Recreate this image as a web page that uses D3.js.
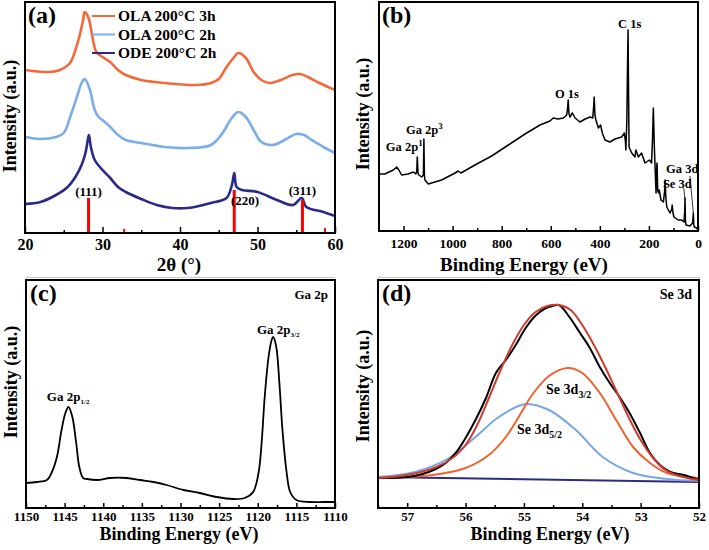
<!DOCTYPE html>
<html><head><meta charset="utf-8">
<script src="https://cdn.jsdelivr.net/npm/d3@7"></script>
<style>
body{margin:0;background:#fff}
svg{display:block}
text{font-family:"Liberation Serif","Times New Roman",serif;font-weight:bold;fill:#000}
</style>
</head><body>
<svg id="chart" width="709" height="550"></svg>
<script>
// ---------------- DATA ----------------
// (a) XRD patterns: [2theta (deg), intensity (a.u.)]
const xrdLegend = ["OLA 200\u00B0C 3h", "OLA 200\u00B0C 2h", "ODE 200\u00B0C 2h"];
const xrdOla3h = [[20,163],[23,161],[24.5,163],[25.8,170],[26.5,183],[27,196],[27.5,213],[27.7,221],[28.2,215],[28.7,196],[29.2,181],[30,176],[31,171],[32,163],[33,158],[35,153],[38,150],[42,148],[44,150],[45,154],[46,166],[47,176],[47.5,180],[48.5,175],[49.5,161],[50.5,153],[51.5,150],[53,153],[54.5,158],[55.5,159],[56.5,156],[58,150],[60,143]];
const xrdOla2h = [[20,96],[22,94],[24,96],[25,100],[26,120],[26.7,136],[27.3,150],[27.7,154],[28.3,145],[29,123],[29.5,116],[30.3,111],[31,106],[32,98],[33,93],[35,90],[38,86],[41,85],[44,88],[45.5,100],[46.5,113],[47.5,121],[48.5,116],[49.5,103],[50.5,91],[52,88],[53.5,93],[55,99],[56,98],[57,93],[58.5,86],[60,80]];
const xrdOde2h = [[20,29],[22,31],[24,38],[25.5,46],[26.5,56],[27.3,68],[27.8,80],[28.1,93],[28.25,98],[28.5,86],[29,73],[30,63],[31,55],[32,46],[33,41],[35,34],[37,28],[39,25],[41,25],[43,28],[44,30],[46,35],[46.7,48],[47.0,60],[47.3,46],[48,43],[50,41],[52.5,33],[54.6,28],[55.7,35],[56.3,26],[58.5,21],[60,17]];
const xrdRefPos = [28.2, 32.8, 47.0, 55.8, 58.7];
const xrdRefHeight = [35, 4, 43, 33, 5];
const xrdPeakLabels = ["(111)", "(220)", "(311)"];
const xrdPeakLabelPos = [[28.2, 37], [48.4, 28], [55.8, 38]];
const xrdTicks = [20, 30, 40, 50, 60];

// (b) XPS survey: [binding energy (eV), intensity]
const surveyData = [[1300,57],[1276,57],[1242,61],[1228,64],[1219,61],[1208,56],[1181,57],[1160,59],[1150,57],[1146,60],[1144,74],[1141,58],[1138,56],[1126,54],[1119,56],[1117,92],[1115,56],[1113,51],[1099,47],[1045,51],[990,58],[977,60],[966,58],[909,66],[841,75],[773,86],[705,97],[644,106],[603,110],[590,113],[570,112],[549,113],[535,116],[531,124],[529,131],[526,118],[522,114],[512,118],[501,113],[481,109],[460,112],[440,114],[429,113],[425,125],[423,134],[420,116],[416,111],[406,103],[397,106],[390,98],[379,91],[359,89],[338,92],[311,94],[300,98],[296,90],[294,81],[290,110],[287,170],[285,201],[283,141],[281,84],[270,78],[257,74],[253,81],[243,74],[230,78],[216,68],[198,71],[189,68],[185,95],[182,123],[178,85],[175,64],[171,38],[168,65],[167,68],[164,40],[160,38],[158,41],[151,31],[141,29],[136,40],[134,51],[131,33],[127,24],[114,18],[107,22],[105,26],[102,18],[98,14],[81,11],[67,11],[57,9],[54,20],[53,33],[51,10],[49,6],[33,5],[22,8],[19,18],[17,6],[15,4],[5,3],[0,1]];
const surveyTicks = [1200, 1000, 800, 600, 400, 200, 0];
const surveyLabels = [
  {parts:["C 1s"], e:326, v:203},
  {parts:["O 1s"], e:583, v:133},
  {parts:["Ga 2p","3"], e:1190, v:97},
  {parts:["Ga 2p","1"], e:1272, v:80},
  {parts:["Ga 3d"], e:130, v:58},
  {parts:["Se 3d"], e:143, v:43}
];
const surveyLeaders = [[[33,55],[19,18]], [[58,43],[53,31]]];

// (c) Ga 2p high-resolution
const ga2pData = [[1150,25],[1148.6,26],[1147.3,28],[1146.7,35],[1146.0,51],[1145.4,78],[1144.9,95],[1144.5,101],[1144.0,91],[1143.5,65],[1143.1,41],[1142.6,30],[1142.1,29],[1140.8,28],[1139.1,30],[1137.0,30],[1135.2,28],[1133.5,26],[1131.8,23],[1129.6,18],[1127.5,15],[1125.3,11],[1123.2,9],[1121.7,10],[1120.6,16],[1119.9,35],[1119.5,65],[1119.1,111],[1118.6,151],[1118.2,168],[1118.0,171],[1117.6,161],[1117.2,125],[1116.8,78],[1116.3,38],[1115.8,16],[1115.0,8],[1113.2,6],[1111.5,6],[1110,6]];
const ga2pTicks = [1150, 1145, 1140, 1135, 1130, 1125, 1120, 1115, 1110];

// (d) Se 3d high-resolution with fit
const se3dRaw = [[57.5,30],[57.26,30],[57.0,31],[56.74,34],[56.51,39],[56.34,45],[56.17,55],[56.0,70],[55.83,88],[55.65,110],[55.48,135],[55.31,148],[55.14,163],[54.97,180],[54.79,193],[54.62,200],[54.51,202],[54.40,203],[54.22,191],[54.05,176],[53.88,161],[53.70,141],[53.53,125],[53.36,111],[53.19,95],[53.01,75],[52.84,55],[52.67,43],[52.49,36],[52.26,33],[52.0,28]];
const se3dEnvelope = [[57.5,30],[57.0,33],[56.5,41],[56.2,51],[56.0,63],[55.8,83],[55.6,110],[55.4,138],[55.2,163],[55.0,183],[54.8,196],[54.6,202],[54.4,203],[54.2,198],[54.0,183],[53.8,163],[53.6,140],[53.4,115],[53.2,90],[53.0,68],[52.8,51],[52.6,39],[52.4,33],[52.2,30],[52.0,28]];
const se3d32 = [[57.5,30],[56.57,33],[56.0,40],[55.6,53],[55.31,71],[55.09,91],[54.86,113],[54.57,132],[54.25,140],[54.0,135],[53.7,115],[53.42,88],[53.13,61],[52.84,45],[52.55,35],[52.0,30]];
const se3d52 = [[57.5,31],[56.87,36],[56.28,50],[55.83,71],[55.43,91],[54.97,104],[54.57,98],[54.11,78],[53.65,51],[53.13,35],[52.55,29],[52.0,27]];
const se3dBackground = [[57.5,31],[52.0,26]];
const se3dTicks = [57, 56, 55, 54, 53, 52];

// ---------------- DRAWING ----------------
const svg = d3.select("#chart");
const C = {orange:"#f4683a", lblue:"#7badea", navy:"#2c2a88", red:"#ff0000",
           fitRed:"#cf3a30", fitOrange:"#f2622e", fitBlue:"#78a6e6", base:"#2e2a80"};

function panel(id, l, r, t, b, xDom, yMax) {
  const x = d3.scaleLinear(xDom, [l, r]);
  const y = d3.scaleLinear([0, yMax], [b, t]);
  const g = svg.append("g");
  svg.append("clipPath").attr("id", "clip" + id)
    .append("rect").attr("x", l).attr("y", t).attr("width", r - l).attr("height", b - t);
  const plot = g.append("g").attr("clip-path", `url(#clip${id})`);
  return {x, y, g, plot, l, r, t, b};
}

function axis(p, major, minor, majLen, minLen, fs, pad) {
  p.g.append("g").attr("transform", `translate(0,${p.b})`)
    .call(d3.axisBottom(p.x).tickValues(minor).tickSize(-minLen).tickFormat(""))
    .call(a => a.select(".domain").remove())
    .call(a => a.selectAll("line").attr("stroke", "#000").attr("stroke-width", 1.5));
  p.g.append("g").attr("transform", `translate(0,${p.b})`)
    .call(d3.axisBottom(p.x).tickValues(major).tickSize(-majLen).tickPadding(pad).tickFormat(d3.format("d")))
    .call(a => a.select(".domain").remove())
    .call(a => a.selectAll("line").attr("stroke", "#000").attr("stroke-width", 1.5))
    .call(a => a.selectAll("text").attr("font-size", fs).attr("fill", "#000")
      .style("font-family", '"Liberation Serif",serif').style("font-weight", "bold"));
}

function frame(p) {
  p.g.append("rect").attr("x", p.l).attr("y", p.t).attr("width", p.r - p.l).attr("height", p.b - p.t)
    .attr("fill", "none").attr("stroke", "#000").attr("stroke-width", 2);
}

function curve(p, data, color, w, cv) {
  p.plot.append("path").datum(data)
    .attr("d", d3.line().x(d => p.x(d[0])).y(d => p.y(d[1])).curve(cv || d3.curveLinear))
    .attr("fill", "none").attr("stroke", color).attr("stroke-width", w).attr("stroke-linejoin", "round");
}

function label(g, x, y, parts, fs, anchor, subSize, mode) {
  const t = g.append("text").attr("x", x).attr("y", y).attr("font-size", fs)
    .attr("text-anchor", anchor || "start");
  parts.forEach((s, i) => {
    if (i === 0) t.append("tspan").text(s);
    else if (mode === "sup") t.append("tspan").attr("font-size", subSize).attr("dy", -fs * 0.4).text(s);
    else t.append("tspan").attr("font-size", subSize).attr("dy", fs * 0.25).text(s);
  });
  return t;
}

function ytitle(g, x, y, fs) {
  g.append("text").attr("transform", `translate(${x},${y}) rotate(-90)`)
    .attr("text-anchor", "middle").attr("font-size", fs).text("Intensity (a.u.)");
}

// ---- (a) ----
const A = panel("a", 25, 335, 2, 233, [20, 60], 231);
curve(A, xrdOla3h, C.orange, 2.6, d3.curveCatmullRom);
curve(A, xrdOla2h, C.lblue, 2.6, d3.curveCatmullRom);
curve(A, xrdOde2h, C.navy, 2.6, d3.curveCatmullRom);
A.plot.selectAll("line.ref").data(xrdRefPos).join("line")
  .attr("x1", d => A.x(d)).attr("x2", d => A.x(d))
  .attr("y1", A.y(0)).attr("y2", (d, i) => A.y(xrdRefHeight[i]))
  .attr("stroke", C.red).attr("stroke-width", (d, i) => xrdRefHeight[i] > 10 ? 3 : 2);
xrdPeakLabels.forEach((s, i) => {
  A.g.append("text").attr("x", A.x(xrdPeakLabelPos[i][0])).attr("y", A.y(xrdPeakLabelPos[i][1]))
    .attr("text-anchor", "middle").attr("font-size", 13).text(s);
});
axis(A, xrdTicks, [25, 35, 45, 55], 6, 3, 16, 6);
frame(A);
[C.orange, C.lblue, C.navy].forEach((c, i) => {
  const yy = 16 + i * 18.5;
  A.g.append("line").attr("x1", 92).attr("x2", 115).attr("y1", yy).attr("y2", yy)
    .attr("stroke", c).attr("stroke-width", 2);
  A.g.append("text").attr("x", 118).attr("y", yy).attr("dy", "0.35em").attr("font-size", 15.5).text(xrdLegend[i]);
});
A.g.append("text").attr("x", 28).attr("y", 23).attr("font-size", 24).text("(a)");
ytitle(A.g, 16, 116, 18);
A.g.append("text").attr("x", 179).attr("y", 271).attr("text-anchor", "middle").attr("font-size", 19).text("2\u03B8 (\u00B0)");

// ---- (b) ----
const B = panel("b", 379, 698, 2, 231, [1300, 0], 229);
curve(B, surveyData, "#000", 1.5);
axis(B, surveyTicks, [1100, 900, 700, 500, 300, 100], 5, 3, 13.5, 7);
frame(B);
surveyLeaders.forEach(s => {
  B.g.append("line").attr("x1", B.x(s[0][0])).attr("y1", B.y(s[0][1]))
    .attr("x2", B.x(s[1][0])).attr("y2", B.y(s[1][1])).attr("stroke", "#000").attr("stroke-width", 0.8);
});
surveyLabels.forEach(d => {
  label(B.g, B.x(d.e), B.y(d.v), d.parts, 12.5, "start", 9, "sup");
});
B.g.append("text").attr("x", 382).attr("y", 23).attr("font-size", 24).text("(b)");
ytitle(B.g, 369, 114, 18);
B.g.append("text").attr("x", 524).attr("y", 271).attr("text-anchor", "middle").attr("font-size", 19).text("Binding Energy (eV)");

// faint box edges between rows
svg.append("line").attr("x1", 26).attr("x2", 335).attr("y1", 277.5).attr("y2", 277.5).attr("stroke", "#c8c8c8");
svg.append("line").attr("x1", 378).attr("x2", 700).attr("y1", 277.5).attr("y2", 277.5).attr("stroke", "#c8c8c8");

// ---- (c) ----
const Cp = panel("c", 26, 335, 280, 508, [1150, 1110], 228);
curve(Cp, ga2pData, "#000", 1.8, d3.curveCatmullRom);
axis(Cp, ga2pTicks, [1147.5, 1142.5, 1137.5, 1132.5, 1127.5, 1122.5, 1117.5, 1112.5], 5, 3, 13, 4);
frame(Cp);
Cp.g.append("text").attr("x", 30).attr("y", 301).attr("font-size", 24).text("(c)");
Cp.g.append("text").attr("x", 328).attr("y", 299).attr("text-anchor", "end").attr("font-size", 13).text("Ga 2p");
label(Cp.g, Cp.x(1120.1), Cp.y(174), ["Ga 2p", "3/2"], 13, "start", 7, "sub");
label(Cp.g, Cp.x(1147.3), Cp.y(107), ["Ga 2p", "1/2"], 13, "start", 7, "sub");
ytitle(Cp.g, 17, 382, 18);
Cp.g.append("text").attr("x", 179).attr("y", 540).attr("text-anchor", "middle").attr("font-size", 18).text("Binding Energy (eV)");

// ---- (d) ----
const D = panel("d", 378, 699, 280, 508, [57.5, 52], 228);
curve(D, se3dBackground, C.base, 2);
curve(D, se3d52, C.fitBlue, 2, d3.curveCatmullRom);
curve(D, se3d32, C.fitOrange, 2, d3.curveCatmullRom);
curve(D, se3dRaw, "#000", 2, d3.curveCatmullRom);
curve(D, se3dEnvelope, C.fitRed, 2, d3.curveCatmullRom);
axis(D, se3dTicks, [57.5, 56.5, 55.5, 54.5, 53.5, 52.5], 5, 3, 13, 4);
frame(D);
D.g.append("text").attr("x", 382).attr("y", 301).attr("font-size", 24).text("(d)");
D.g.append("text").attr("x", 692).attr("y", 299).attr("text-anchor", "end").attr("font-size", 14).text("Se 3d");
label(D.g, D.x(54.62), D.y(114), ["Se 3d", "3/2"], 14, "start", 10, "sub");
label(D.g, D.x(55.12), D.y(74), ["Se 3d", "5/2"], 14, "start", 10, "sub");
ytitle(D.g, 369, 386, 18);
D.g.append("text").attr("x", 550).attr("y", 540).attr("text-anchor", "middle").attr("font-size", 18).text("Binding Energy (eV)");
</script>
</body></html>
